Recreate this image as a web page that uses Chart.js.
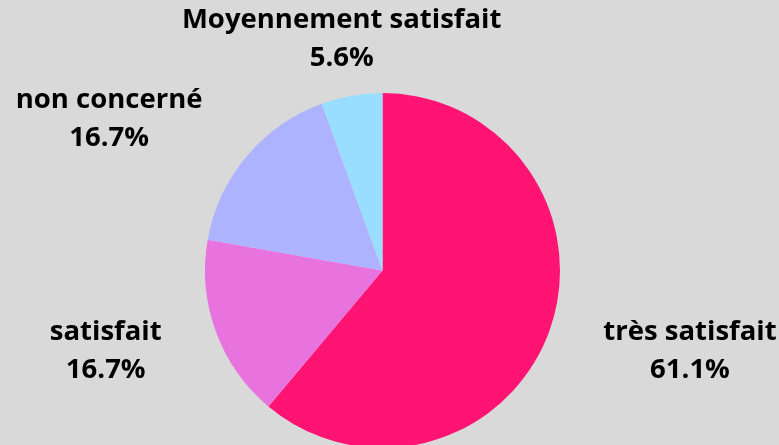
<!DOCTYPE html>
<html>
<head>
<meta charset="utf-8">
<script src="https://cdn.jsdelivr.net/npm/chart.js@4.4.1/dist/chart.umd.min.js"></script>
<style>
    html, body { margin: 0; padding: 0; background: #d9d9d9; overflow: hidden; }
    #wrap { position: relative; width: 779px; height: 445px; }
</style>
</head>
<body>
<div id="wrap"><canvas id="satisfaction"></canvas></div>
<script>
var categories = ["très satisfait", "satisfait", "non concerné", "Moyennement satisfait"];
var answers = [11, 3, 3, 1]; // number of answers per category
var sliceColors = ['#ff1474', '#e873de', '#adb3ff', '#99ddff'];

// draws "name / xx.x%" outside each slice, both lines centred in their block
var outsideLabels = {
    id: 'outsideLabels',
    afterDatasetsDraw: function (chart) {
        var ctx = chart.ctx;
        var meta = chart.getDatasetMeta(0);
        var total = answers.reduce(function (a, b) { return a + b; }, 0);
        ctx.save();
        ctx.font = 'bold 27.5px "Open Sans"';
        ctx.fillStyle = '#000';
        ctx.textBaseline = 'middle';
        ctx.textAlign = 'center';
        meta.data.forEach(function (arc, i) {
            var mid = (arc.startAngle + arc.endAngle) / 2;
            var dist = arc.outerRadius + 57.5;
            var dx = Math.cos(mid), dy = Math.sin(mid);
            var x = arc.x + dx * dist;
            var y = arc.y + dy * dist;
            var pct = (answers[i] / total * 100).toFixed(1) + '%';
            var w = Math.max(ctx.measureText(categories[i]).width, ctx.measureText(pct).width);
            if (Math.abs(dx) >= 0.3) {
                x += dx > 0 ? w / 2 : -w / 2;
            }
            ctx.fillText(categories[i], x, y - 19);
            ctx.fillText(pct, x, y + 19);
        });
        ctx.restore();
    }
};

var ctx = document.getElementById("satisfaction").getContext('2d');
var myChart = new Chart(ctx, {
    type: 'pie',
    data: {
        labels: categories,
        datasets: [{
            data: answers,
            backgroundColor: sliceColors,
            borderWidth: 0
        }]
    },
    options: {
        responsive: true,
        maintainAspectRatio: false,
        animation: false,
        radius: 177.5,
        layout: { padding: { top: 96, bottom: 0, left: 0, right: 14 } },
        plugins: {
            legend: { display: false },
            tooltip: { enabled: false }
        }
    },
    plugins: [outsideLabels]
});
</script>
</body>
</html>
